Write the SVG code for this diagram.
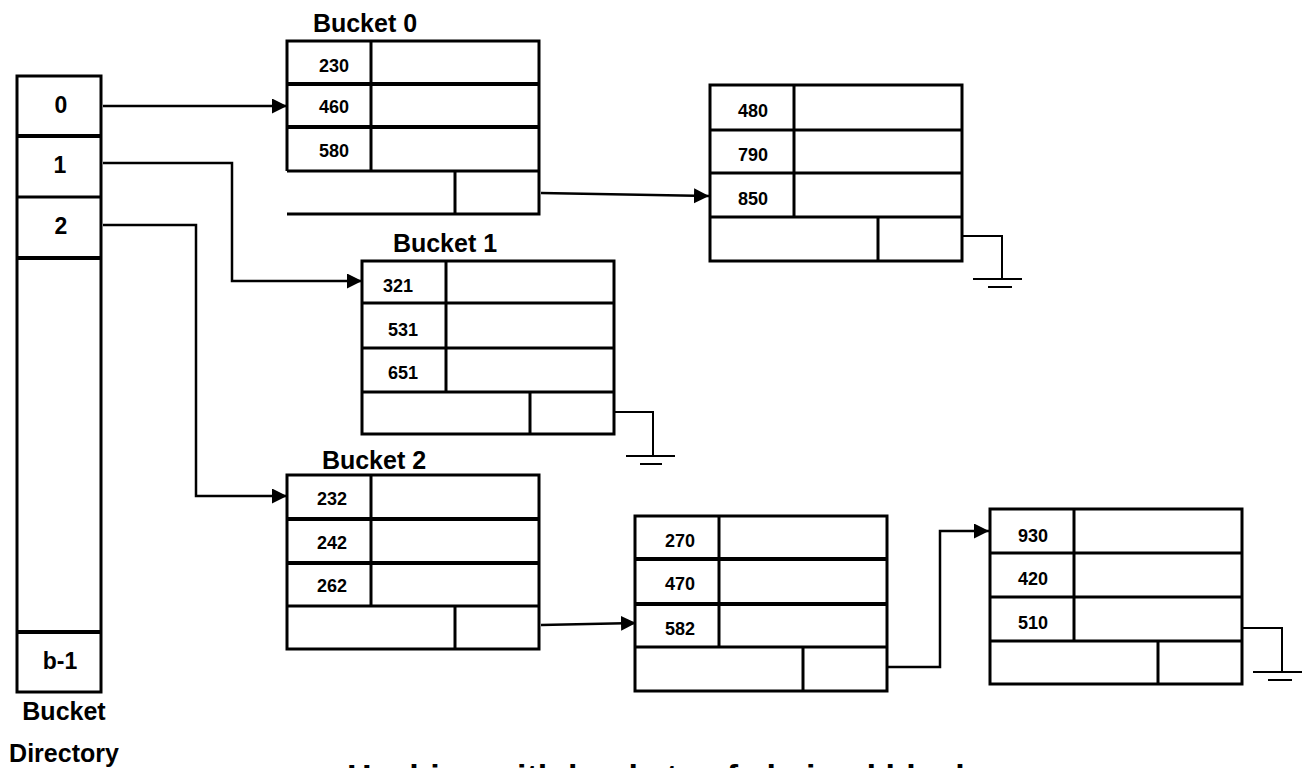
<svg xmlns="http://www.w3.org/2000/svg" width="1304" height="768" viewBox="0 0 1304 768">
<defs>
<marker id="arr" markerUnits="userSpaceOnUse" markerWidth="16" markerHeight="16" refX="15" refY="7.5" orient="auto">
<path d="M0,0 L15,7.5 L0,15 z" fill="#000"/>
</marker>
<style>
.box{fill:none;stroke:#000;stroke-width:3}
.thick{fill:none;stroke:#000;stroke-width:4}
.con{fill:none;stroke:#000;stroke-width:2.5;marker-end:url(#arr)}
.gnd{fill:none;stroke:#000;stroke-width:2}
.num{font-family:"Liberation Sans",Arial,sans-serif;font-weight:bold;font-size:18px;text-anchor:middle;fill:#000}
.dir{font-family:"Liberation Sans",Arial,sans-serif;font-weight:bold;font-size:23px;text-anchor:middle;fill:#000}
.lbl{font-family:"Liberation Sans",Arial,sans-serif;font-weight:bold;font-size:25px;text-anchor:middle;fill:#000}
.cap{font-family:"Liberation Sans",Arial,sans-serif;font-weight:bold;font-size:34px;fill:#000}
</style>
</defs>
<rect width="1304" height="768" fill="#fff"/>

<g id="directory">
<rect class="box" x="17" y="76" width="84" height="616"/>
<line class="thick" x1="17" y1="136" x2="101" y2="136"/>
<line class="box" x1="17" y1="197" x2="101" y2="197"/>
<line class="thick" x1="17" y1="258" x2="101" y2="258"/>
<line class="thick" x1="17" y1="632" x2="101" y2="632"/>
<text class="dir" x="61" y="113">0</text>
<text class="dir" x="60" y="173">1</text>
<text class="dir" x="61" y="234">2</text>
<text class="dir" x="60" y="669">b-1</text>
<text class="lbl" x="64" y="720">Bucket</text>
<text class="lbl" x="64" y="762">Directory</text>
</g>

<g id="bucket0">
<text class="lbl" x="365" y="32">Bucket 0</text>
<path class="box" d="M287,171 V41 H539 V214 H287"/>
<line class="thick" x1="287" y1="84" x2="539" y2="84"/>
<line class="thick" x1="287" y1="127" x2="539" y2="127"/>
<line class="box" x1="287" y1="171" x2="539" y2="171"/>
<line class="box" x1="371" y1="41" x2="371" y2="171"/>
<line class="box" x1="455" y1="171" x2="455" y2="214"/>
<text class="num" x="334" y="72">230</text>
<text class="num" x="334" y="113">460</text>
<text class="num" x="334" y="157">580</text>
</g>

<g id="block0b">
<rect class="box" x="710" y="85" width="252" height="176"/>
<line class="box" x1="710" y1="130" x2="962" y2="130"/>
<line class="box" x1="710" y1="173" x2="962" y2="173"/>
<line class="box" x1="710" y1="217" x2="962" y2="217"/>
<line class="box" x1="794" y1="85" x2="794" y2="217"/>
<line class="box" x1="878" y1="217" x2="878" y2="261"/>
<text class="num" x="753" y="117">480</text>
<text class="num" x="753" y="161">790</text>
<text class="num" x="753" y="205">850</text>
<path class="gnd" d="M962,236 H1002 V279"/>
<line class="gnd" x1="973" y1="279" x2="1022" y2="279"/>
<line class="gnd" x1="988" y1="287" x2="1012" y2="287"/>
</g>

<g id="bucket1">
<text class="lbl" x="445" y="252">Bucket 1</text>
<rect class="box" x="362" y="261" width="252" height="173"/>
<line class="box" x1="362" y1="303" x2="614" y2="303"/>
<line class="box" x1="362" y1="348" x2="614" y2="348"/>
<line class="box" x1="362" y1="392" x2="614" y2="392"/>
<line class="box" x1="446" y1="261" x2="446" y2="392"/>
<line class="box" x1="530" y1="392" x2="530" y2="434"/>
<text class="num" x="398" y="292">321</text>
<text class="num" x="403" y="336">531</text>
<text class="num" x="403" y="379">651</text>
<path class="gnd" d="M614,412 H653 V456"/>
<line class="gnd" x1="626" y1="456" x2="675" y2="456"/>
<line class="gnd" x1="640" y1="464" x2="662" y2="464"/>
</g>

<g id="bucket2">
<text class="lbl" x="374" y="469">Bucket 2</text>
<rect class="box" x="287" y="475" width="252" height="174"/>
<line class="thick" x1="287" y1="519" x2="539" y2="519"/>
<line class="thick" x1="287" y1="563" x2="539" y2="563"/>
<line class="box" x1="287" y1="606" x2="539" y2="606"/>
<line class="box" x1="371" y1="475" x2="371" y2="606"/>
<line class="box" x1="455" y1="606" x2="455" y2="649"/>
<text class="num" x="332" y="505">232</text>
<text class="num" x="332" y="549">242</text>
<text class="num" x="332" y="592">262</text>
</g>

<g id="block2b">
<rect class="box" x="635" y="516" width="252" height="175"/>
<line class="thick" x1="635" y1="559" x2="887" y2="559"/>
<line class="thick" x1="635" y1="604" x2="887" y2="604"/>
<line class="box" x1="635" y1="647" x2="887" y2="647"/>
<line class="box" x1="719" y1="516" x2="719" y2="647"/>
<line class="box" x1="803" y1="647" x2="803" y2="691"/>
<text class="num" x="680" y="547">270</text>
<text class="num" x="680" y="590">470</text>
<text class="num" x="680" y="635">582</text>
</g>

<g id="block2c">
<rect class="box" x="990" y="509" width="252" height="175"/>
<line class="box" x1="990" y1="553" x2="1242" y2="553"/>
<line class="box" x1="990" y1="597" x2="1242" y2="597"/>
<line class="box" x1="990" y1="641" x2="1242" y2="641"/>
<line class="box" x1="1074" y1="509" x2="1074" y2="641"/>
<line class="box" x1="1158" y1="641" x2="1158" y2="684"/>
<text class="num" x="1033" y="542">930</text>
<text class="num" x="1033" y="585">420</text>
<text class="num" x="1033" y="629">510</text>
<path class="gnd" d="M1242,628 H1282 V672"/>
<line class="gnd" x1="1253" y1="672" x2="1302" y2="672"/>
<line class="gnd" x1="1268" y1="680" x2="1292" y2="680"/>
</g>

<g id="connectors">
<path class="con" d="M103,106 H287"/>
<path class="con" d="M103,163 H232 V281 H362"/>
<path class="con" d="M103,225 H196 V496 H287"/>
<path class="con" d="M541,193 L709,196"/>
<path class="con" d="M541,625 L636,623"/>
<path class="con" d="M887,667 H940 V531 H989"/>
</g>

<g id="caption">
<text class="cap" x="347" y="788">Hashing with buckets of chained blocks</text>
</g>
</svg>
